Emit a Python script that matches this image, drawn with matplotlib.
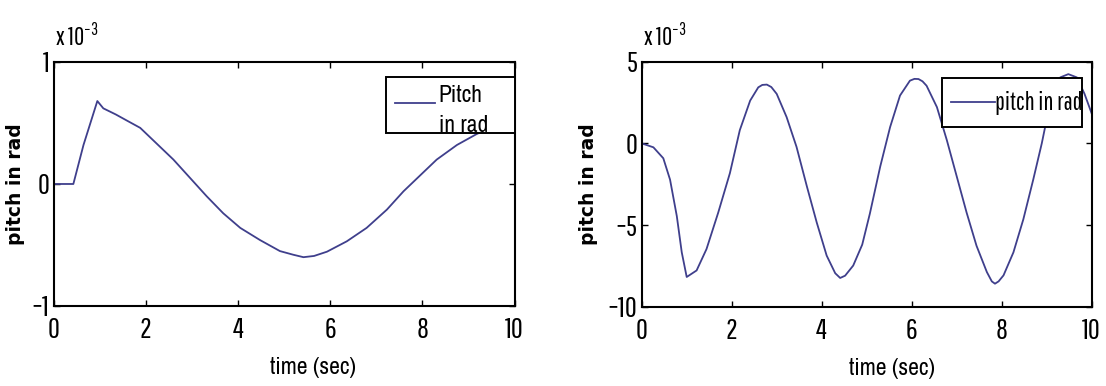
import matplotlib.pyplot as plt
from matplotlib.patches import Rectangle

plt.rcParams['font.family'] = ['Pathway Gothic One', 'DejaVu Sans']
plt.rcParams['mathtext.default'] = 'regular'

# pitch response, first case (values in 1e-3 rad)
t_a = [0.0, 0.2, 0.43, 0.65, 0.95, 1.08, 1.35, 1.59, 1.88, 2.24, 2.60, 2.96,
       3.32, 3.68, 4.05, 4.48, 4.91, 5.2, 5.42, 5.65, 5.93, 6.36, 6.79, 7.23,
       7.59, 7.95, 8.31, 8.75, 9.18, 9.6, 10.0]
pitch_a = [0.0, 0.0, 0.0, 0.32, 0.68, 0.62, 0.57, 0.52, 0.46, 0.33, 0.20, 0.05,
           -0.10, -0.24, -0.36, -0.46, -0.55, -0.58, -0.60, -0.59, -0.555,
           -0.47, -0.36, -0.21, -0.06, 0.07, 0.20, 0.32, 0.41, 0.48, 0.54]

# pitch response, second case (values in 1e-3 rad)
t_b = [0.0, 0.26, 0.48, 0.63, 0.78, 0.89, 1.0, 1.22, 1.44, 1.70, 1.96, 2.18,
       2.41, 2.59, 2.68, 2.78, 2.88, 3.0, 3.22, 3.44, 3.67, 3.89, 4.11, 4.30,
       4.41, 4.52, 4.70, 4.90, 5.07, 5.30, 5.52, 5.74, 5.96, 6.06, 6.15, 6.24,
       6.33, 6.56, 6.78, 7.0, 7.22, 7.44, 7.67, 7.78, 7.85, 7.93, 8.04, 8.26,
       8.48, 8.70, 8.89, 9.04, 9.30, 9.48, 9.67, 9.84, 10.0]
pitch_b = [0.0, -0.24, -0.91, -2.22, -4.45, -6.67, -8.18, -7.78, -6.47, -4.24,
           -1.82, 0.81, 2.62, 3.43, 3.58, 3.6, 3.45, 3.03, 1.61, -0.21, -2.63,
           -4.85, -6.87, -7.95, -8.24, -8.1, -7.48, -6.2, -4.3, -1.42, 1.0,
           2.93, 3.84, 3.95, 3.94, 3.8, 3.53, 2.22, 0.2, -2.02, -4.24, -6.27,
           -7.88, -8.45, -8.59, -8.45, -8.08, -6.67, -4.65, -2.22, 0.0, 2.02,
           4.04, 4.24, 4.04, 3.03, 1.82]

x_ticks = [0, 2, 4, 6, 8, 10]
y_ticks_a = [-1, 0, 1]
y_ticks_b = [-10, -5, 0, 5]

line_color = '#3f3f8c'
narrow = ['Archivo Narrow', 'DejaVu Sans']

fig = plt.figure(figsize=(11.06, 3.86), dpi=100)
ax1 = fig.add_axes([0.0484, 0.2073, 0.4169, 0.6321])
ax2 = fig.add_axes([0.5802, 0.2054, 0.4069, 0.6347])


def style_axes(ax, yticks, label_x):
    ax.set_xlim(0, 10)
    ax.set_ylim(yticks[0], yticks[-1])
    ax.set_xticks(x_ticks)
    ax.set_yticks(yticks)
    ax.tick_params(direction='in', length=4, width=1, top=True, right=True,
                   labelsize=21, pad=3)
    ax.tick_params(axis='x', pad=8)
    for s in ax.spines.values():
        s.set_linewidth(1.5)
    ax.set_xlabel('time (sec)', fontsize=17, family=narrow)
    ax.xaxis.set_label_coords(label_x, -0.21)
    ax.set_ylabel('pitch in rad', fontsize=13.5, fontweight='bold',
                  family='DejaVu Sans')
    ax.text(0.003, 1.063, 'x 10$^{-3}$', transform=ax.transAxes, fontsize=18)


ln1, = ax1.plot(t_a, pitch_a, color=line_color, lw=1.3, label='Pitch\nin rad')
style_axes(ax1, y_ticks_a, 0.563)
ax1.yaxis.set_label_coords(-0.062, 0.5)

ln2, = ax2.plot(t_b, pitch_b, color=line_color, lw=1.3, label='pitch in rad')
style_axes(ax2, y_ticks_b, 0.557)
ax2.yaxis.set_label_coords(-0.098, 0.5)

# legend boxes
ax1.add_patch(Rectangle((0.721, 0.710), 0.279, 0.227, transform=ax1.transAxes,
                        facecolor='white', edgecolor='black', lw=1.4,
                        clip_on=False, zorder=5))
ax1.plot([0.741, 0.827], [0.831, 0.831], transform=ax1.transAxes,
         color=line_color, lw=1.3, zorder=6)
ax1.text(0.835, 0.838, 'Pitch', transform=ax1.transAxes, fontsize=17,
         family=narrow, va='baseline', zorder=7)
ax1.text(0.835, 0.714, 'in rad', transform=ax1.transAxes, fontsize=17,
         family=narrow, va='baseline', zorder=7)

ax2.add_patch(Rectangle((0.667, 0.735), 0.311, 0.197, transform=ax2.transAxes,
                        facecolor='white', edgecolor='black', lw=1.4,
                        clip_on=False, zorder=5))
ax2.plot([0.687, 0.785], [0.837, 0.837], transform=ax2.transAxes,
         color=line_color, lw=1.3, zorder=6)
ax2.text(0.786, 0.830, ln2.get_label(), transform=ax2.transAxes, fontsize=18,
         va='center', zorder=7)

fig.savefig('out.png', dpi=100)
